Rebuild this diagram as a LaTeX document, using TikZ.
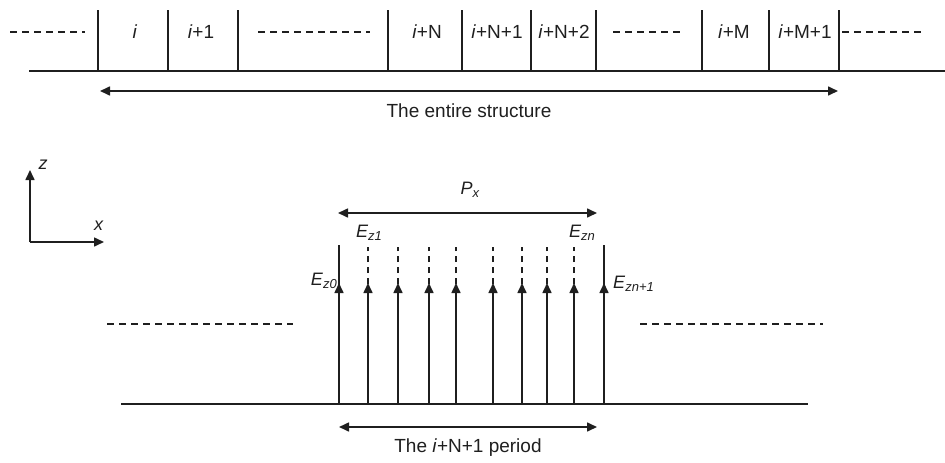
\documentclass[tikz,border=0pt]{standalone}
\usepackage{fontspec}
\setmainfont{Liberation Sans}
\usetikzlibrary{arrows.meta}
\newcommand{\fsub}[1]{\raisebox{-0.35ex}{\fontsize{13}{14}\selectfont\textit{#1}}}
\begin{document}
\begin{tikzpicture}[x=1pt,y=-1pt,
  ln/.style={line width=1.6pt, draw=black!88},
  dsh/.style={line width=1.3pt, draw=black!88, dash pattern=on 7pt off 5pt},
  vdsh/.style={line width=1.4pt, draw=black!88, dash pattern=on 6pt off 5pt},
  tip/.style={-{Triangle[length=10pt,width=9pt]}},
  dbl/.style={{Triangle[length=10pt,width=9pt]}-{Triangle[length=10pt,width=9pt]}},
  lbl/.style={font=\fontsize{19}{22}\selectfont, inner sep=0pt, text=black!88},
  sml/.style={font=\fontsize{18}{20}\selectfont, inner sep=0pt, text=black!88},
  ]
\useasboundingbox (0,0) rectangle (945,463);
% ---- top row ----
\coordinate (bl) at (29,71);
\coordinate (br) at (945,71);
\draw[ln] (bl) -- (br);
\foreach \x in {98,168,238,388,462,531,596,702,769,839} \draw[ln] (\x,10) -- (\x,71);
\draw[dsh] (10,32) -- (85,32);
\draw[dsh] (258,32) -- (370,32);
\draw[dsh] (613,32) -- (682,32);
\draw[dsh] (842,32) -- (922,32);
\node[lbl] (c1) at (135,32) {\textit{i}};
\node[lbl] (c2) at (201,32) {\textit{i}+1};
\node[lbl] (c3) at (427,32) {\textit{i}+N};
\node[lbl] (c4) at (497,32) {\textit{i}+N+1};
\node[lbl] (c5) at (564,32) {\textit{i}+N+2};
\node[lbl] (c6) at (734,32) {\textit{i}+M};
\node[lbl] (c7) at (805,32) {\textit{i}+M+1};
% ---- entire structure ----
\coordinate (sL) at (100,91);
\coordinate (sR) at (838,91);
\draw[ln,dbl] (sL) -- (sR);
\node[lbl] (ent) at (469,111) {The entire structure};
% ---- axes ----
\coordinate (O) at (30,242);
\coordinate (zT) at (30,170);
\coordinate (xT) at (104,242);
\draw[ln,tip] (O) -- (zT);
\draw[ln,tip] (O) -- (xT);
\node[sml] (zl) at (43,165) {\textit{z}};
\node[sml] (xl) at (99,226) {\textit{x}};
% ---- period Px ----
\coordinate (pL) at (338,213);
\coordinate (pR) at (597,213);
\draw[ln,dbl] (pL) -- (pR);
\node[sml] (px) at (470,190) {\textit{P}\fsub{x}};
% ---- base line and side dashes ----
\coordinate (gL) at (121,404);
\coordinate (gR) at (808,404);
\draw[ln] (gL) -- (gR);
\draw[dsh] (107,324) -- (293,324);
\draw[dsh] (640,324) -- (823,324);
% ---- field lines ----
\foreach \x in {339,604} {
  \draw[ln] (\x,404) -- (\x,245);
  \draw[ln,tip] (\x,404) -- (\x,283);
}
\foreach \x in {368,398,429,456,493,522,547,574} {
  \draw[ln,tip] (\x,404) -- (\x,283);
  \draw[vdsh] (\x,284) -- (\x,247);
}
\node[sml,anchor=east] (e0) at (337,281) {\textit{E}\fsub{z0}};
\node[sml] (e1) at (369,233) {\textit{E}\fsub{z1}};
\node[sml] (en) at (582,233) {\textit{E}\fsub{zn}};
\node[sml,anchor=west] (en1) at (613,284) {\textit{E}\fsub{zn+1}};
% ---- period arrow ----
\coordinate (qL) at (339,427);
\coordinate (qR) at (597,427);
\draw[ln,dbl] (qL) -- (qR);
\node[lbl] (per) at (468,448) {The \textit{i}+N+1 period};
\end{tikzpicture}
\end{document}
